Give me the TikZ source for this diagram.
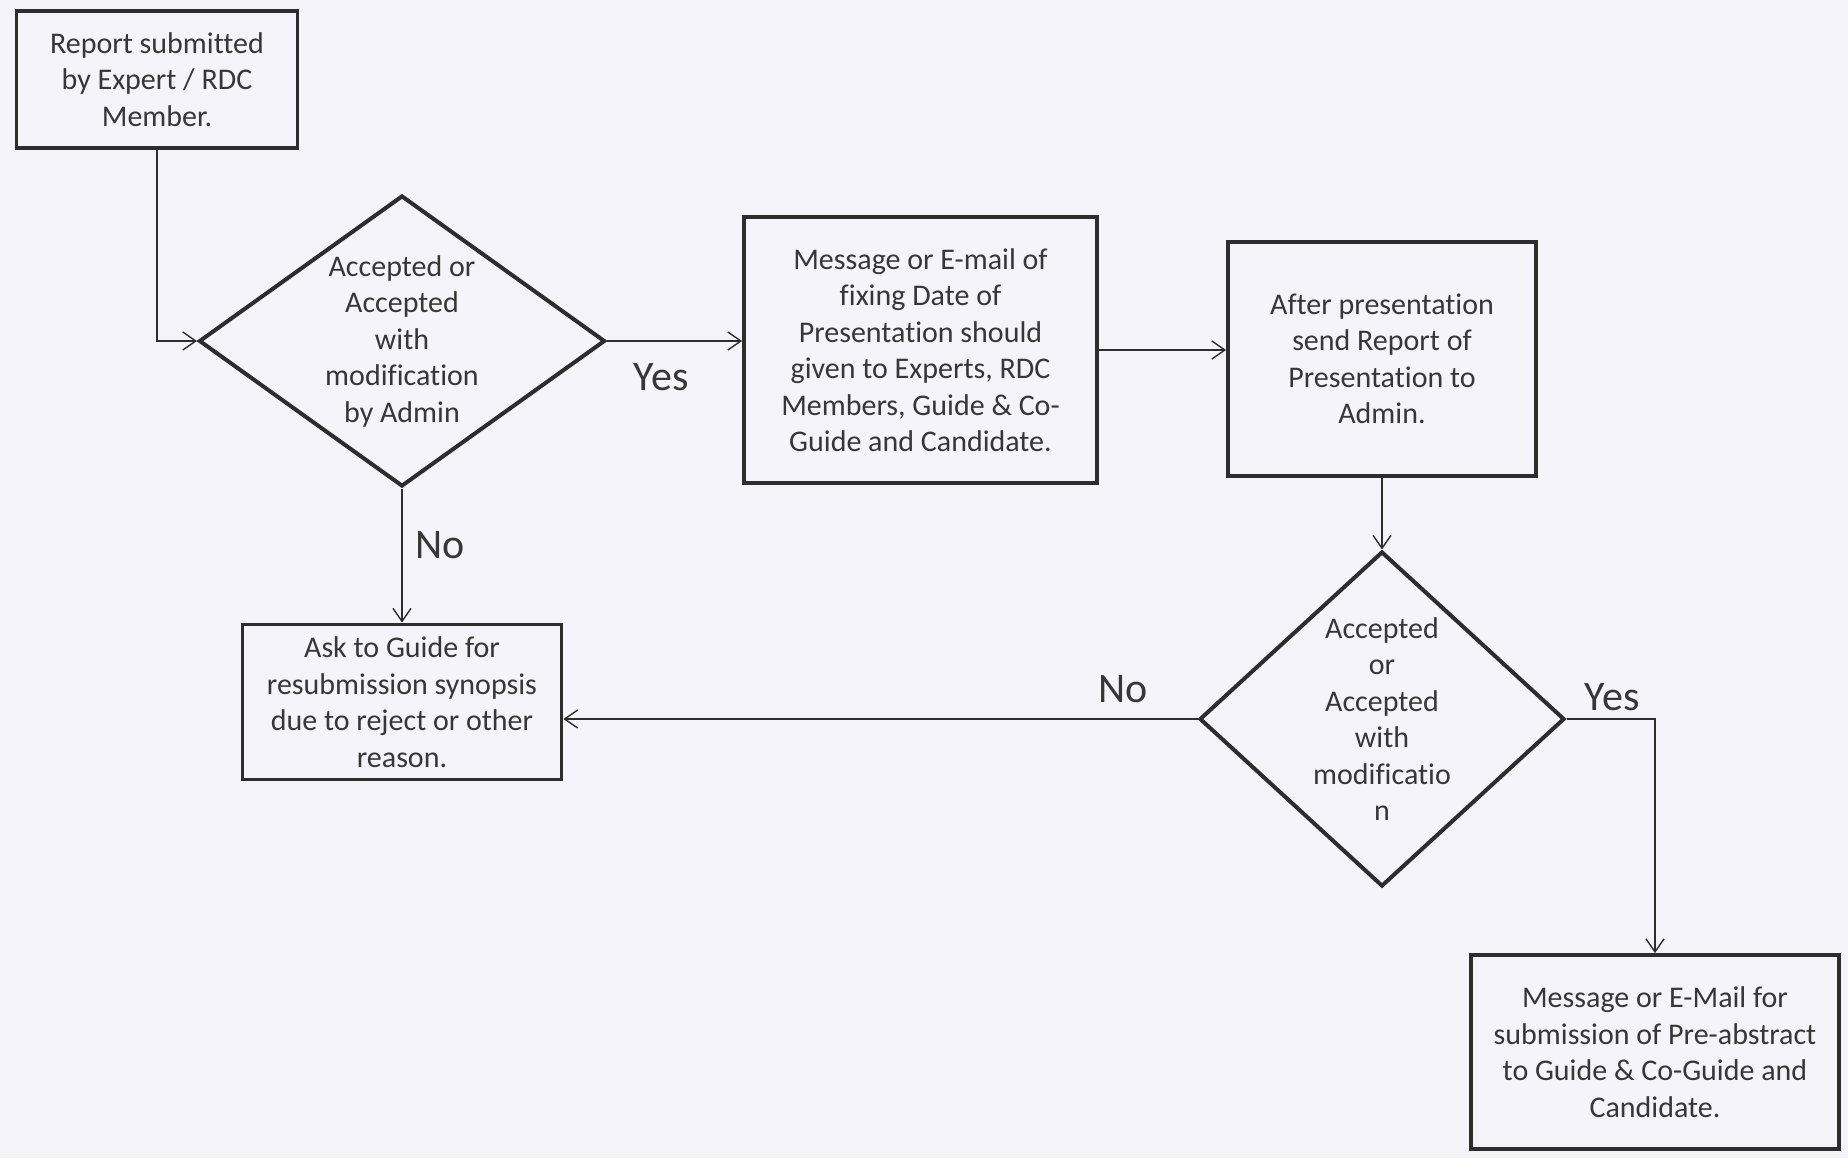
\documentclass[tikz,border=0pt]{standalone}
\usepackage{fontspec}
\setmainfont[Ligatures={NoCommon}]{Carlito}
\usetikzlibrary{shapes.geometric,arrows.meta}
\definecolor{ink}{RGB}{45,45,45}
\definecolor{txt}{RGB}{55,55,55}
\definecolor{paper}{RGB}{245,244,250}
\begin{document}
\begin{tikzpicture}[x=0.5pt,y=-0.5pt,
  box/.style={draw=ink, line width=1.9pt, inner sep=0pt},
  dia/.style={draw=ink, line width=2pt, diamond, inner sep=0pt},
  lbl/.style={font=\fontsize{15}{18.25}\selectfont, text=txt, align=center},
  big/.style={font=\fontsize{21}{25}\selectfont, text=txt},
  arr/.style={draw=ink, line width=0.7pt, -{Straight Barb[length=6.5pt,width=9pt]}}]
\fill[paper] (0,0) rectangle (1848,1158);
\useasboundingbox (0,0) rectangle (1848,1158);

\node[box, lbl, minimum width=140.5pt, minimum height=68.5pt] (b1) at (157,79.5)
  {Report submitted\\by Expert / RDC\\Member.};
\node[dia, minimum width=203pt, minimum height=145.5pt] (d1) at (402,341) {};
\node[lbl] (t1) at (d1) {Accepted or\\Accepted\\with\\modification\\by Admin};
\node[box, lbl, minimum width=176.5pt, minimum height=133pt] (b2) at (920.5,350)
  {Message or E-mail of\\fixing Date of\\Presentation should\\given to Experts, RDC\\Members, Guide \& Co-\\Guide and Candidate.};
\node[box, lbl, minimum width=154pt, minimum height=117pt] (b3) at (1382,359)
  {After presentation\\send Report of\\Presentation to\\Admin.};
\node[dia, minimum width=182.5pt, minimum height=167.5pt] (d2) at (1382,719) {};
\node[lbl] (t2) at (d2) {Accepted\\or\\Accepted\\with\\modificatio\\n};
\node[box, lbl, minimum width=159.5pt, minimum height=77.5pt] (b4) at (402,702)
  {Ask to Guide for\\resubmission synopsis\\due to reject or other\\reason.};
\node[box, lbl, minimum width=184pt, minimum height=97pt] (b5) at (1655,1052)
  {Message or E-Mail for\\submission of Pre-abstract\\to Guide \& Co-Guide and\\Candidate.};

\draw[arr] (b1.south) |- (d1.west);
\draw[arr] (d1.east) -- (d1.east -| b2.west);
\draw[arr] (b2.east) -- (b2.east -| b3.west);
\draw[arr] (b3.south) -- (d2.north);
\draw[arr] (d1.south) -- (b4.north);
\draw[arr] (d2.west) -- (d2.west -| b4.east);
\draw[arr] (d2.east) -| (b5.north);

\node[big] (l1) at (661,377) {Yes};
\node[big] (l2) at (440,545) {No};
\node[big] (l3) at (1123,689) {No};
\node[big] (l4) at (1612,697) {Yes};
\end{tikzpicture}
\end{document}
